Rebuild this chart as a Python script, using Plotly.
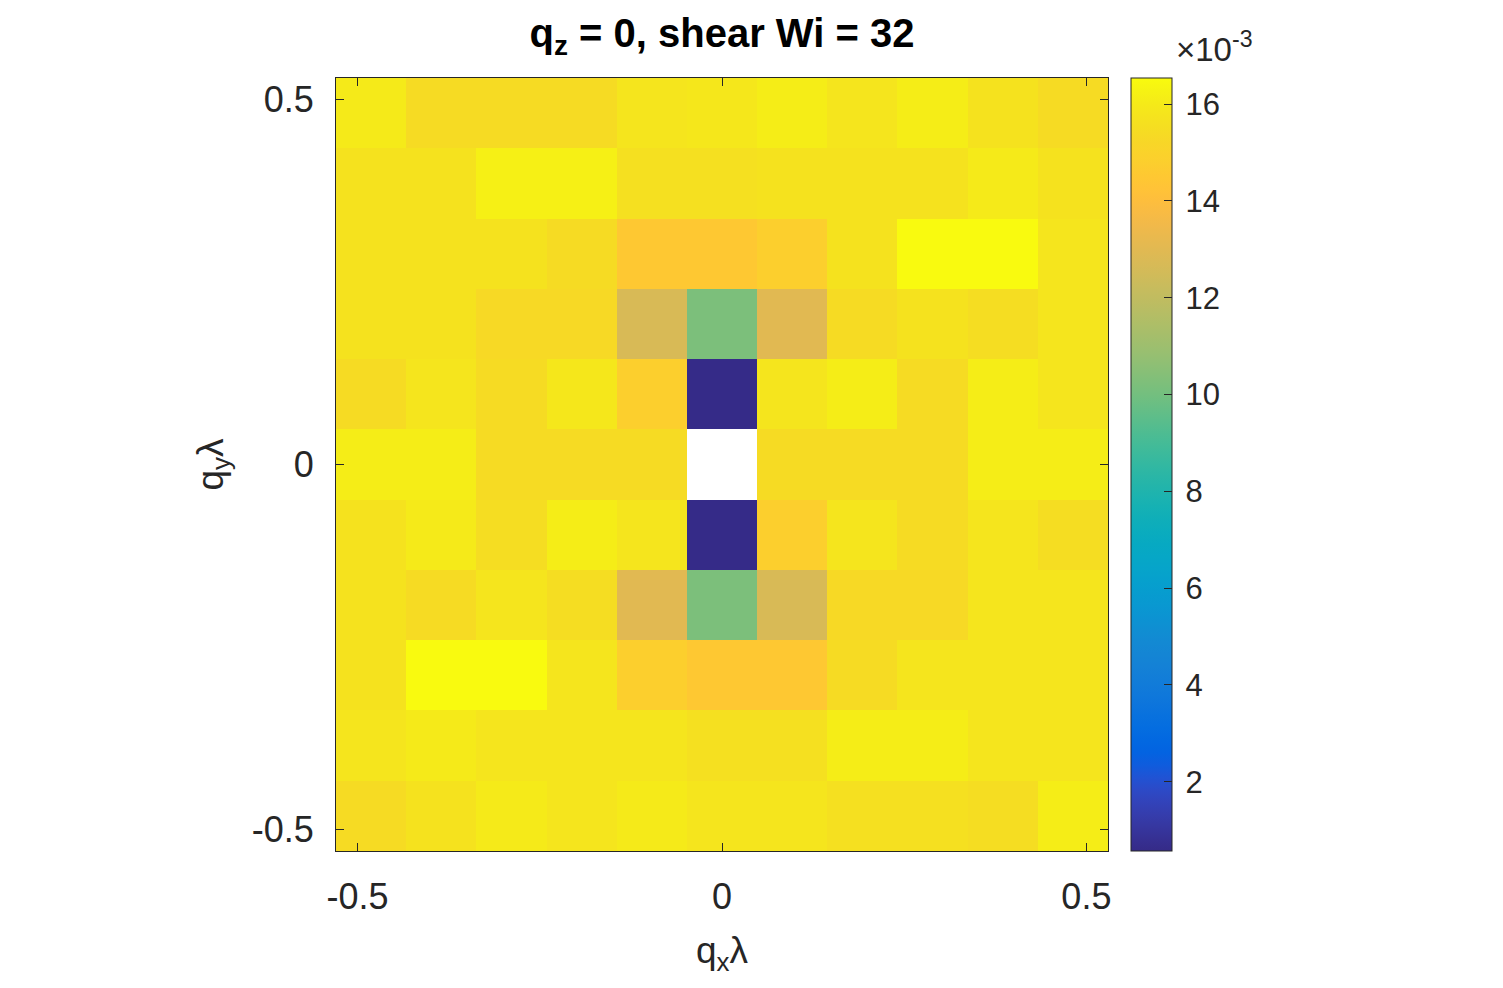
import numpy as np
import plotly.graph_objects as go

# grid spacing of the wave-vector lattice
dq = 0.0963
k_index = list(range(-5, 6))

# structure factor values in units of 1e-3, rows from top (q_y = +5 dq) to bottom (q_y = -5 dq)
row_p5 = [16.0, 15.4, 15.4, 15.4, 15.8, 15.9, 16.1, 15.8, 16.1, 15.7, 15.4]
row_p4 = [15.7, 15.7, 16.2, 16.2, 15.6, 15.6, 15.7, 15.7, 15.7, 16.0, 15.7]
row_p3 = [15.7, 15.7, 15.7, 15.4, 14.5, 14.5, 14.8, 15.7, 16.5, 16.5, 15.8]
row_p2 = [15.7, 15.7, 15.3, 15.3, 12.7, 10.2, 13.0, 15.4, 15.7, 15.5, 15.8]
row_p1 = [15.4, 15.8, 15.4, 15.9, 14.8, 0.6, 15.8, 16.1, 15.4, 16.1, 15.8]
row_00 = [16.1, 16.1, 15.4, 15.4, 15.4, None, 15.4, 15.4, 15.4, 16.1, 16.1]
row_m1 = [15.7, 16.0, 15.5, 16.1, 15.8, 0.6, 14.8, 15.8, 15.4, 15.8, 15.5]
row_m2 = [15.7, 15.4, 15.8, 15.5, 13.0, 10.2, 12.7, 15.3, 15.3, 15.8, 15.8]
row_m3 = [15.7, 16.5, 16.5, 15.8, 14.8, 14.5, 14.5, 15.4, 15.8, 15.8, 15.8]
row_m4 = [15.8, 16.0, 15.8, 15.8, 15.8, 15.6, 15.6, 16.1, 16.1, 15.8, 15.8]
row_m5 = [15.4, 15.7, 16.0, 15.8, 16.0, 15.8, 15.8, 15.6, 15.6, 15.5, 16.1]

rows_top_to_bottom = [row_p5, row_p4, row_p3, row_p2, row_p1, row_00,
                      row_m1, row_m2, row_m3, row_m4, row_m5]

cbar_ticks = [2, 4, 6, 8, 10, 12, 14, 16]
x_ticks = [-0.5, 0, 0.5]
y_ticks = [-0.5, 0, 0.5]

qx = [k * dq for k in k_index]
qy = [k * dq for k in k_index]
z = [[np.nan if v is None else v for v in r] for r in rows_top_to_bottom[::-1]]

parula = [[0.2081, 0.1663, 0.5292], [0.2116, 0.1898, 0.5777], [0.2123, 0.2138, 0.6270], [0.2081, 0.2386, 0.6771],
          [0.1959, 0.2645, 0.7279], [0.1707, 0.2919, 0.7792], [0.1253, 0.3242, 0.8303], [0.0591, 0.3598, 0.8683],
          [0.0117, 0.3875, 0.8820], [0.0060, 0.4086, 0.8828], [0.0165, 0.4266, 0.8786], [0.0329, 0.4430, 0.8720],
          [0.0498, 0.4586, 0.8641], [0.0629, 0.4737, 0.8554], [0.0723, 0.4887, 0.8467], [0.0779, 0.5040, 0.8384],
          [0.0793, 0.5200, 0.8312], [0.0749, 0.5375, 0.8263], [0.0641, 0.5570, 0.8240], [0.0488, 0.5772, 0.8228],
          [0.0343, 0.5966, 0.8199], [0.0265, 0.6137, 0.8135], [0.0239, 0.6287, 0.8038], [0.0231, 0.6418, 0.7913],
          [0.0228, 0.6535, 0.7768], [0.0267, 0.6642, 0.7607], [0.0384, 0.6743, 0.7436], [0.0590, 0.6838, 0.7254],
          [0.0843, 0.6928, 0.7062], [0.1133, 0.7015, 0.6859], [0.1453, 0.7098, 0.6646], [0.1801, 0.7177, 0.6424],
          [0.2178, 0.7250, 0.6193], [0.2586, 0.7317, 0.5954], [0.3022, 0.7376, 0.5712], [0.3482, 0.7424, 0.5473],
          [0.3953, 0.7459, 0.5244], [0.4420, 0.7481, 0.5033], [0.4871, 0.7491, 0.4840], [0.5300, 0.7491, 0.4661],
          [0.5709, 0.7485, 0.4494], [0.6099, 0.7473, 0.4337], [0.6473, 0.7456, 0.4188], [0.6834, 0.7435, 0.4044],
          [0.7184, 0.7411, 0.3905], [0.7525, 0.7384, 0.3768], [0.7858, 0.7356, 0.3633], [0.8185, 0.7327, 0.3498],
          [0.8507, 0.7299, 0.3360], [0.8824, 0.7274, 0.3217], [0.9139, 0.7258, 0.3063], [0.9450, 0.7261, 0.2886],
          [0.9739, 0.7314, 0.2666], [0.9938, 0.7455, 0.2403], [0.9990, 0.7653, 0.2164], [0.9955, 0.7861, 0.1967],
          [0.9880, 0.8066, 0.1794], [0.9789, 0.8271, 0.1633], [0.9697, 0.8481, 0.1475], [0.9626, 0.8705, 0.1309],
          [0.9589, 0.8949, 0.1132], [0.9598, 0.9218, 0.0948], [0.9661, 0.9514, 0.0755], [0.9763, 0.9831, 0.0538]]
colorscale = [[i / (len(parula) - 1), "rgb(%d,%d,%d)" % tuple(int(round(c * 255)) for c in col)]
              for i, col in enumerate(parula)]

FONT = "Liberation Sans, Arial, Helvetica, sans-serif"
TXT = "#262626"

fig = go.Figure()
fig.add_trace(go.Heatmap(
    x=qx, y=qy, z=z,
    colorscale=colorscale, zmin=0.57, zmax=16.54,
    hoverongaps=False,
    colorbar=dict(
        x=(1131 - 336) / 772, xanchor="left", xref="paper",
        y=0.5, yanchor="middle", len=1.0, lenmode="fraction",
        thickness=41, thicknessmode="pixels",
        xpad=0, ypad=0,
        outlinewidth=1, outlinecolor=TXT,
        ticks="inside", ticklen=8, tickcolor=TXT, tickwidth=1,
        tickvals=cbar_ticks, ticktext=["\u2009" + str(t) for t in cbar_ticks],
        tickfont=dict(family=FONT, size=31, color=TXT),
    ),
))

half = 5.5 * dq
axis_common = dict(
    showgrid=False, zeroline=False, showline=True, linecolor=TXT, linewidth=1,
    mirror="ticks", ticks="inside", ticklen=8, tickcolor=TXT,
    tickfont=dict(family=FONT, size=36, color=TXT),
)

fig.update_layout(
    width=1503, height=988,
    margin=dict(l=336, r=1503 - 1108, t=78, b=988 - 851),
    paper_bgcolor="white", plot_bgcolor="white",
    xaxis=dict(range=[-half, half], tickvals=x_ticks, ticktext=["-0.5", "0", "0.5"],
               ticklabelstandoff=14, **axis_common),
    yaxis=dict(range=[-half, half], tickvals=y_ticks, ticktext=["-0.5", "0", "0.5"],
               ticklabelstandoff=14, **axis_common),
    title=dict(text="<b>q<sub>z</sub> = 0, shear Wi = 32</b>",
               x=0.5, xanchor="center", xref="paper",
               y=1 - 33 / 988, yanchor="middle", yref="container",
               font=dict(family=FONT, size=40, color="black")),
    showlegend=False,
)

fig.add_annotation(text="q<sub>x</sub>λ", xref="paper", yref="paper",
                   x=0.5, y=(851 - 928) / 773, xanchor="center", yanchor="top",
                   showarrow=False, font=dict(family=FONT, size=37, color=TXT))
fig.add_annotation(text="q<sub>y</sub>λ", xref="paper", yref="paper", textangle=-90,
                   x=(212 - 336) / 772, y=0.5, xanchor="center", yanchor="middle",
                   showarrow=False, font=dict(family=FONT, size=37, color=TXT))
fig.add_annotation(text="×10<sup>-3</sup>", xref="paper", yref="paper",
                   x=(1174 - 336) / 772, y=(851 - 70) / 773, xanchor="left", yanchor="bottom",
                   showarrow=False, font=dict(family=FONT, size=33, color=TXT))

fig.write_html("out.html")
